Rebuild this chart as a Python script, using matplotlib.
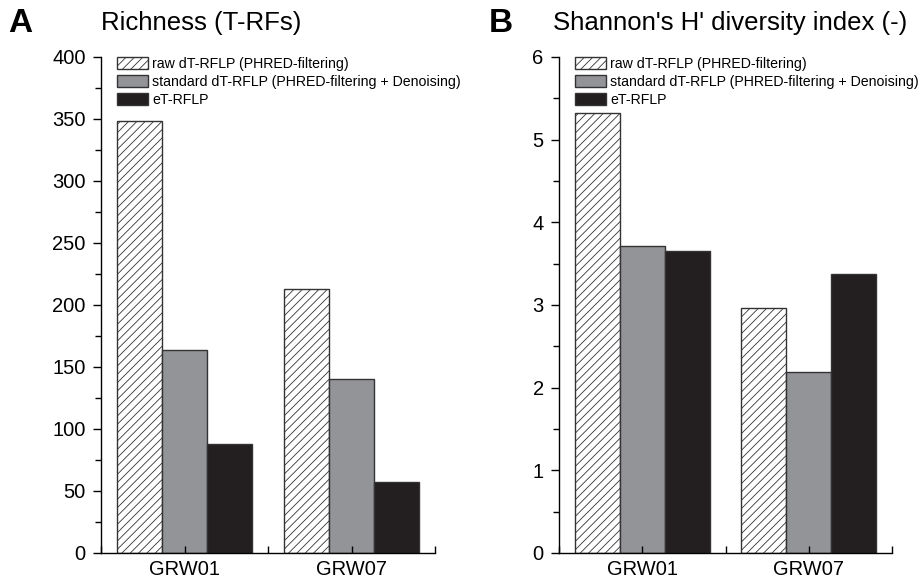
import matplotlib as m
m.use("Agg")
import matplotlib.pyplot as plt
import numpy as np
from matplotlib.ticker import MultipleLocator

plt.rcParams['font.family'] = ['Liberation Sans', 'DejaVu Sans']
plt.rcParams['hatch.linewidth'] = 0.6

# data
sites = ['GRW01', 'GRW07']
series = ['raw dT-RFLP (PHRED-filtering)',
          'standard dT-RFLP (PHRED-filtering + Denoising)',
          'eT-RFLP']
richness_raw = [348, 213]
richness_std = [164, 140]
richness_et = [88, 57]
shannon_raw = [5.32, 2.96]
shannon_std = [3.71, 2.19]
shannon_et = [3.65, 3.37]

fills = ['white', '#939498', '#231f20']
hatches = ['////', None, None]

fig = plt.figure(figsize=(9.21, 5.85), dpi=100)
axA = fig.add_axes([101 / 921, 32 / 585, 334 / 921, 496 / 585])
axB = fig.add_axes([559 / 921, 32 / 585, 333 / 921, 496 / 585])


def drawPanel(ax, values, ymax, major, minor, letter, title, letterX, titleX):
  x = np.arange(len(sites))
  w = 0.27
  for i, vals in enumerate(values):
    ax.bar(x + (i - 1) * w, vals, w, color=fills[i], hatch=hatches[i],
           edgecolor='#333333', linewidth=1.0, label=series[i])
  ax.set_xlim(-0.5, len(sites) - 0.5)
  ax.set_ylim(0, ymax)
  for s in ['top', 'right']:
    ax.spines[s].set_visible(False)
  for s in ['left', 'bottom']:
    ax.spines[s].set_linewidth(1.0)
  ax.yaxis.set_major_locator(MultipleLocator(major))
  ax.yaxis.set_minor_locator(MultipleLocator(minor))
  ax.tick_params(axis='y', which='major', direction='out', length=6, width=1.0,
                 labelsize=14.5, pad=5)
  ax.tick_params(axis='y', which='minor', direction='out', length=4, width=1.0)
  # boundaries between groups get ticks, names sit at group centres
  ax.set_xticks(np.arange(-0.5, len(sites), 1.0))
  ax.set_xticklabels([])
  ax.set_xticks(x, minor=True)
  ax.set_xticklabels(sites, minor=True)
  ax.tick_params(axis='x', which='both', direction='in', length=5, width=1.0,
                 labelsize=14.5, pad=5)
  ax.legend(loc='upper left', bbox_to_anchor=(0.03, 1.012), frameon=False,
            fontsize=10.2, handlelength=2.2, handleheight=0.95,
            handletextpad=0.3, labelspacing=0.3, borderaxespad=0)
  fig.text(letterX / 921, 1 - 24 / 585, letter, fontsize=24, fontweight='bold',
           va='center', ha='left')
  fig.text(titleX / 921, 1 - 23 / 585, title, fontsize=18.5, va='center', ha='left')


drawPanel(axA, [richness_raw, richness_std, richness_et], 400, 50, 25,
          'A', 'Richness (T-RFs)', 8, 101)
drawPanel(axB, [shannon_raw, shannon_std, shannon_et], 6, 1, 0.5,
          'B', "Shannon's H' diversity index (-)", 489, 553)

plt.savefig("out.png", dpi=100)
